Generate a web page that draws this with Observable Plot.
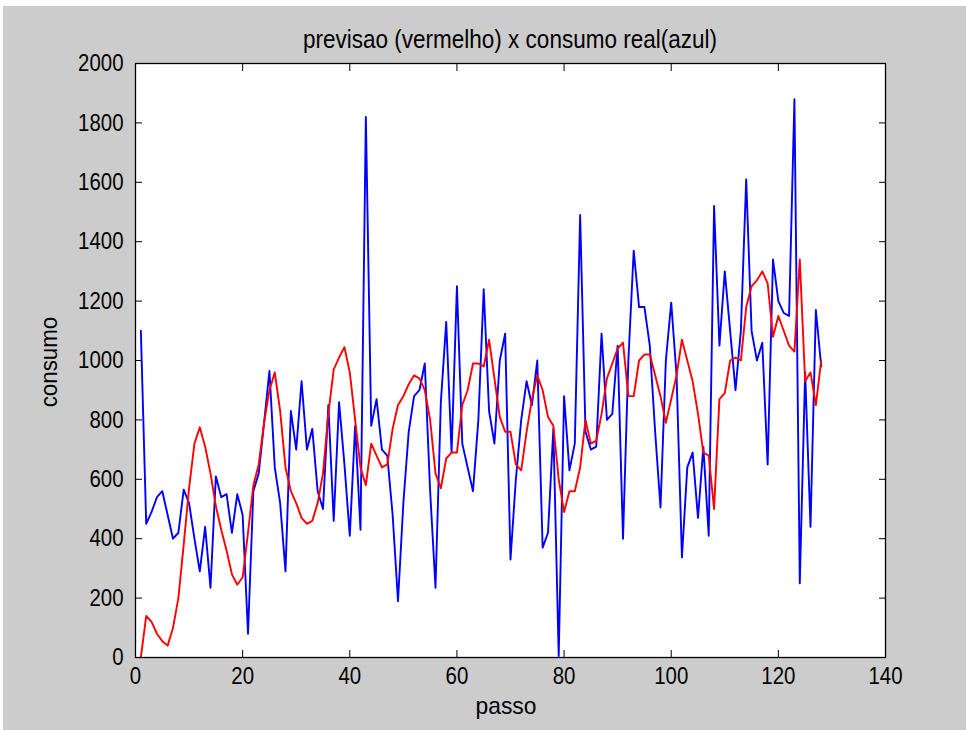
<!DOCTYPE html>
<html>
<head>
<meta charset="utf-8">
<script src="https://cdn.jsdelivr.net/npm/d3@7"></script>
<script src="https://cdn.jsdelivr.net/npm/@observablehq/plot@0.6"></script>
<style>
  html, body { margin: 0; padding: 0; background: #ffffff; width: 966px; height: 730px; overflow: hidden; }
  #fig { position: absolute; left: 3px; top: 6px; width: 963px; height: 724px; background: #cccccc; }
  #chart { position: absolute; left: 0; top: 0; }
  .txt { position: absolute; font-family: "Liberation Sans", Arial, sans-serif; font-size: 24px; color: #000; white-space: nowrap; line-height: 1; }
  #title { left: 135px; width: 750px; top: 27px; text-align: center; font-size: 25px; transform: scaleX(0.9); }
  #xlabel { left: 131px; width: 750px; top: 694px; text-align: center; transform: scaleX(0.95); }
  #ylabel { left: 49px; top: 362px; transform: translate(-50%, -50%) rotate(-90deg) scaleX(0.93); }
</style>
</head>
<body>
<div id="fig"></div>
<div id="chart"></div>
<div id="title" class="txt">previsao (vermelho) x consumo real(azul)</div>
<div id="xlabel" class="txt">passo</div>
<div id="ylabel" class="txt">consumo</div>
<script>
// consumo real (azul), passo 1..128
const consumoReal = [
  1100, 450, 490, 540, 560, 480, 400, 420, 565, 520,
  400, 290, 440, 235, 610, 540, 550, 420, 550, 480,
  80, 560, 620, 790, 965, 640, 520, 290, 830, 700,
  930, 700, 770, 560, 500, 850, 460, 860, 650, 410,
  780, 430, 1820, 780, 870, 700, 680, 480, 190, 520,
  760, 880, 900, 990, 560, 235, 860, 1130, 690, 1250,
  720, 640, 560, 800, 1240, 830, 720, 1000, 1090, 330,
  600, 800, 930, 850, 1000, 370, 420, 770, 5, 880,
  630, 720, 1490, 760, 700, 710, 1090, 800, 820, 1050,
  400, 1000, 1370, 1180, 1180, 1050, 760, 505, 1000, 1195,
  950, 337, 640, 690, 470, 710, 410, 1520, 1050, 1300,
  1100, 900, 1100, 1610, 1100, 1000, 1060, 650, 1340, 1200,
  1160, 1150, 1880, 250, 960, 440, 1170, 980
];
// previsao (vermelho), passo 1..128
const previsao = [
  0, 140, 120, 80, 55, 40, 100, 200, 380, 570,
  720, 775, 710, 620, 510, 430, 360, 280, 245, 270,
  420, 580, 650, 790, 900, 960, 830, 640, 560, 520,
  470, 450, 460, 520, 620, 820, 970, 1010, 1045, 960,
  800, 640, 580, 720, 680, 640, 650, 770, 850, 880,
  920, 950, 940, 900, 800, 620, 570, 670, 690, 690,
  850, 900, 990, 990, 980, 1070, 940, 810, 760, 760,
  650, 630, 760, 870, 950, 900, 810, 780, 600, 490,
  560, 560, 640, 800, 720, 730, 820, 940, 990, 1040,
  1060, 880, 880, 1000, 1020, 1020, 950, 880, 790, 870,
  950, 1070, 1000, 930, 820, 690, 680, 500, 870, 890,
  1000, 1010, 1000, 1180, 1250, 1270, 1300, 1260, 1080, 1150,
  1100, 1050, 1030, 1340, 930, 960, 850, 1000
];
const xTicks = [0, 20, 40, 60, 80, 100, 120, 140];
const yTicks = [0, 200, 400, 600, 800, 1000, 1200, 1400, 1600, 1800, 2000];

const realData = consumoReal.map((v, i) => ({passo: i + 1, consumo: v}));
const prevData = previsao.map((v, i) => ({passo: i + 1, consumo: v}));

const chart = Plot.plot({
  width: 966,
  height: 730,
  marginLeft: 135,
  marginRight: 81,
  marginTop: 63,
  marginBottom: 73,
  style: {
    background: "transparent",
    fontFamily: '"Liberation Sans", Arial, sans-serif',
    fontSize: "24px",
    color: "#000"
  },
  x: {domain: [0, 140]},
  y: {domain: [0, 2000]},
  marks: [
    Plot.frame({fill: "#ffffff", stroke: null}),
    Plot.line(realData, {x: "passo", y: "consumo", stroke: "#0000ff", strokeWidth: 1.9}),
    Plot.line(prevData, {x: "passo", y: "consumo", stroke: "#ff0000", strokeWidth: 1.9}),
    Plot.frame({stroke: "#000000", strokeWidth: 1.3}),
    Plot.axisX(xTicks, {anchor: "bottom", tickSize: 0, tickPadding: 9, tickFormat: d => String(d), label: null}),
    Plot.axisX(xTicks, {anchor: "bottom", tickSize: -7, tickFormat: () => "", label: null}),
    Plot.axisX(xTicks, {anchor: "top", tickSize: -7, tickFormat: () => "", label: null}),
    Plot.axisY(yTicks, {anchor: "left", tickSize: 0, tickPadding: 12, tickFormat: d => String(d), label: null}),
    Plot.axisY(yTicks, {anchor: "left", tickSize: -7, tickFormat: () => "", label: null}),
    Plot.axisY(yTicks, {anchor: "right", tickSize: -7, tickFormat: () => "", label: null})
  ]
});
// condense tick label glyphs horizontally (narrow look of the original)
d3.select(chart).selectAll("text").each(function() {
  const t = this.getAttribute("transform") || "";
  this.setAttribute("transform", `${t} scale(0.85,1)`);
});
document.getElementById("chart").appendChild(chart);
</script>
</body>
</html>
